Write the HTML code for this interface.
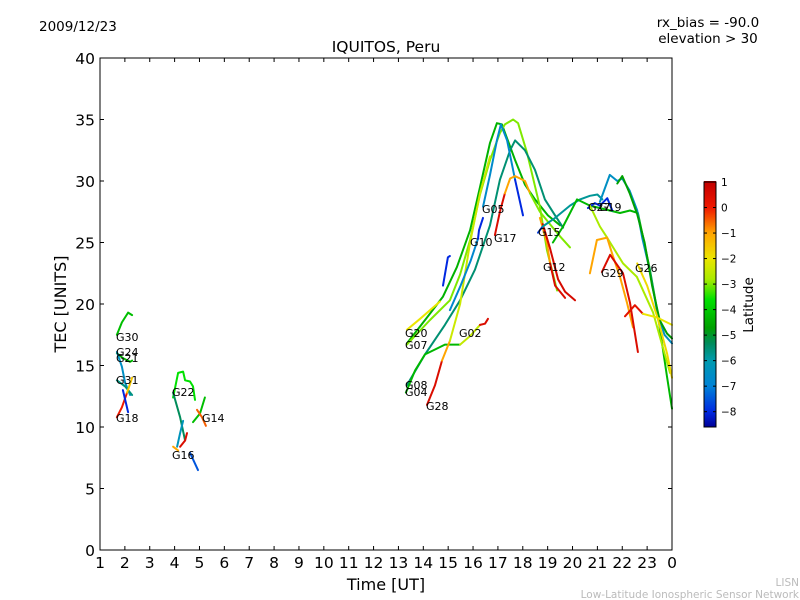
<!DOCTYPE html>
<html><head><meta charset="utf-8"><style>
body{margin:0;background:#fff}
svg{display:block;font-family:"DejaVu Sans","Liberation Sans",sans-serif}
</style></head><body>
<svg id="chart" width="800" height="600" viewBox="0 0 800 600">
<rect width="800" height="600" fill="#fff"/>
<text x="39" y="31" font-size="13.5">2009/12/23</text>
<text x="708" y="27" font-size="13.5" text-anchor="middle">rx_bias = -90.0</text>
<text x="708" y="43" font-size="13.5" text-anchor="middle">elevation &gt; 30</text>
<text x="386" y="52" font-size="15.5" text-anchor="middle">IQUITOS, Peru</text>
<g id="plot"></g>
<g id="labels" font-size="11"></g>
<g id="axes"></g>
<text x="386" y="590" font-size="16" text-anchor="middle">Time [UT]</text>
<text x="0" y="0" font-size="16" text-anchor="middle" transform="translate(66,304) rotate(-90)">TEC [UNITS]</text>
<g id="cbar"></g>
<text x="0" y="0" font-size="13.5" text-anchor="middle" transform="translate(753,305) rotate(-90)">Latitude</text>
<text x="799" y="586" font-size="10.5" fill="#bbb" text-anchor="end">LISN</text>
<text x="799" y="598" font-size="10.5" fill="#bbb" text-anchor="end">Low-Latitude Ionospheric Sensor Network</text>
</svg>
<script>
const xTickLabels=["1","2","3","4","5","6","7","8","9","10","11","12","13","14","15","16","17","18","19","20","21","22","23","0"];
const yTickValues=[0,5,10,15,20,25,30,35,40];
const cbarTicks=[1,0,-1,-2,-3,-4,-5,-6,-7,-8];
const trkT=[
[1.68,1.88,2.13,2.29],[1.68,1.92,2.21,2.29],[1.68,1.88,2.01,2.21],[1.68,2.01,2.29],
[1.68,1.88,2.09],[2.09,2.29],[1.92,2.13],
[3.94,4.14,4.34,4.42,4.62,4.74,4.82],[3.94,4.22,4.42],[4.10,4.22,4.34],
[4.74,5.02,5.22],[4.90,5.10,5.26],[4.22,4.42,4.50],[3.94,4.14],[4.62,4.94],
[13.34,14.15,14.79,15.35,15.88,16.28,16.68,16.96,17.16,17.69,18.09,18.49,19.01,19.50],
[13.34,14.27,15.07,15.48,15.88,16.28,16.68,17.08,17.28,17.61,17.81,18.17,18.69,18.97,19.38],
[13.34,14.07,14.87,15.48,16.08,16.68,17.08,17.49,17.69,18.09,18.49,18.89,19.30,19.62],
[16.40,16.68,16.96,17.12,17.37,17.69],[17.69,18.01],
[13.30,13.67,14.07,14.47,14.87,15.48],[15.48,15.88,16.28],[16.28,16.48,16.60],
[14.15,14.47,14.75],[14.75,15.07],[15.07,15.48,15.88,16.28,16.68],
[16.88,17.08,17.28],[17.28,17.49,17.69,17.89,18.09,18.29],[18.29,18.69,19.09,19.50,19.90],
[18.69,18.97,19.10],[19.10,19.30,19.70],[18.80,19.10,19.42,19.70,20.10],
[18.61,18.80],[18.80,19.30,19.90,20.30,20.70,21.00,21.20],
[19.21,19.62,20.18,20.70,21.91,22.31,22.63,23.11,23.40,23.80,24.00],
[20.62,20.90,21.10,21.40,21.60],
[21.10,21.50,21.80,22.00,22.30,22.60,22.80,23.10,23.40,23.70,24.00],
[21.80,22.00,22.30,22.60,22.90,23.20,23.50,23.80,24.00],
[20.70,21.10,21.39,22.03,22.59,23.24,23.92],
[20.70,20.98,21.39,21.59,21.91,22.19,22.43],
[21.18,21.51,22.03,22.31,22.63],
[22.11,22.51,22.83],[22.83,23.40,24.00],
[22.60,23.00,23.40,23.80,24.00],
[14.79,14.99,15.07],[15.07,15.50,15.90,16.20],[16.20,16.24,16.40],
[13.34,13.87,14.67]
];
const trkV=[
[17.5,18.5,19.3,19.1],[16.0,15.6,15.3,15.4],[16.1,14.9,13.6,12.6],[13.8,13.3,12.6],
[10.8,11.6,12.8],[12.8,14.0],[13.0,11.2],
[12.4,14.4,14.5,13.8,13.7,13.3,12.2],[12.8,10.8,8.9],[8.4,9.5,10.5],
[10.4,11.1,12.4],[11.4,10.8,10.1],[8.4,8.9,9.5],[8.4,8.1],[7.9,6.5],
[16.8,18.9,20.6,23.0,26.0,29.5,33.1,34.7,34.6,31.7,29.7,28.5,27.2,26.4],
[16.7,18.7,20.3,22.4,25.2,28.9,31.7,33.9,34.6,35.0,34.7,32.3,27.9,24.4,21.1],
[13.4,15.9,18.3,20.3,22.8,26.4,30.1,32.5,33.3,32.5,30.9,28.5,27.2,26.2],
[27.9,30.5,33.3,34.6,33.3,30.1],[30.1,27.2],
[12.8,14.6,15.9,16.3,16.7,16.7],[16.7,17.4,18.3],[18.3,18.4,18.8],
[11.8,13.4,15.4],[15.4,17.0],[17.0,20.0,25.0,29.0,32.0],
[25.6,27.5,29.0],[29.0,30.2,30.4,30.2,30.0,29.0],[29.0,27.5,26.5,25.5,24.6],
[27.0,25.0,23.3],[23.3,21.5,20.5],[26.5,24.5,22.0,21.0,20.3],
[25.8,26.3],[26.3,27.0,28.0,28.5,28.8,28.9,28.5],
[25.0,26.3,28.5,28.0,27.4,27.6,27.4,22.8,19.5,14.1,11.5],
[27.8,28.2,28.0,28.6,27.6],
[28.3,30.5,30.0,30.2,29.2,27.6,25.4,22.8,19.4,17.5,16.8],
[29.8,30.4,29.0,27.3,25.0,21.5,18.7,17.6,17.2],
[28.0,26.3,25.4,23.3,22.2,19.3,14.4],
[22.5,25.2,25.4,24.1,22.2,20.1,18.1],
[22.6,24.0,22.5,20.1,16.1],
[19.0,19.9,19.2],[19.2,18.9,18.3],
[23.3,21.5,19.0,16.0,14.0],
[21.5,23.8,23.9],[19.5,21.5,23.5,25.3],[25.3,26.0,27.0],
[17.9,18.8,20.2]
];
const trkLat=[-4.2,-4.2,-6.5,-5.6,0,-1.5,-8,-3.6,-5.3,-6.3,-4.2,-0.5,0.5,-1,-7.5,
-4.4,-3.0,-5.5,-6.7,-8,-4.3,-2.5,0.5,0.5,-1,-2.4,0.5,-1,-3.0,-1,0.5,0.6,-7.8,-5.8,-4.3,-8,-6.5,-4.7,-2.8,-1,0.5,0.3,-2,-1.8,-8,-6.8,-8,-2];
const labelNames=["G30","G24","G21","G31","G18","G22","G14","G16","G20","G07","G08","G04","G28","G02","G05","G10","G17","G15","G12","G27","G19","G29","G26"];
const labelPx=[[116,337],[116,352],[116,358],[116,380],[116,418],[172,392],[202,418],[172,455],[405,333],[405,345],[405,385],[405,392],[426,406],[459,333],[482,209],[470,242],[494,238],[538,232],[543,267],[588,207],[599,207],[601,273],[635,268]];

const X0=100,X1=672,Y0=550,Y1=58;
const xs=h=>X0+(h-1)*(X1-X0)/23;
const ys=v=>Y0-v*(Y0-Y1)/40;
const vmin=-8.6,vmax=1.0,CB0=427,CB1=182;
const cs=l=>CB0-(l-vmin)*(CB0-CB1)/(vmax-vmin);
const cmapStops=[[-8.6,0,0,150],[-8,0,40,225],[-7,0,130,215],[-6,0,155,175],[-5.3,0,140,90],[-4.7,0,160,0],[-3.6,0,225,0],[-2.8,170,235,0],[-2,235,230,0],[-1,255,165,0],[0,240,25,0],[1,195,0,0]];
function jet(l){
 if(l<=cmapStops[0][0])return `rgb(${cmapStops[0][1]},${cmapStops[0][2]},${cmapStops[0][3]})`;
 for(let i=1;i<cmapStops.length;i++){const a=cmapStops[i-1],b=cmapStops[i];
  if(l<=b[0]){const f=(l-a[0])/(b[0]-a[0]);
   return `rgb(${Math.round(a[1]+f*(b[1]-a[1]))},${Math.round(a[2]+f*(b[2]-a[2]))},${Math.round(a[3]+f*(b[3]-a[3]))})`;}}
 const z=cmapStops[cmapStops.length-1];return `rgb(${z[1]},${z[2]},${z[3]})`;}
const NS="http://www.w3.org/2000/svg";
function mk(tag,attrs,parent){const e=document.createElementNS(NS,tag);for(const k in attrs)e.setAttribute(k,attrs[k]);parent.appendChild(e);return e;}
const plot=document.getElementById('plot');
trkT.forEach((tt,i)=>{
 const d=tt.map((t,j)=>(j?'L':'M')+xs(t).toFixed(1)+','+ys(trkV[i][j]).toFixed(1)).join('');
 const p=mk('path',{d:d,fill:'none',stroke:jet(trkLat[i]),'stroke-width':2,'stroke-linejoin':'round','stroke-linecap':'round'},plot);
 
 
});
const lab=document.getElementById('labels');
labelNames.forEach((n,i)=>{
 const t=mk('text',{x:labelPx[i][0],y:labelPx[i][1]+4},lab);t.textContent=n;
 
 
});
const ax=document.getElementById('axes');
const fr=mk('rect',{x:X0,y:Y1,width:X1-X0,height:Y0-Y1,fill:'none',stroke:'#000','stroke-width':1},ax);


xTickLabels.forEach((s,i)=>{
 const x=xs(i+1);
 mk('line',{x1:x,x2:x,y1:Y0,y2:Y0-4,stroke:'#000'},ax);
 mk('line',{x1:x,x2:x,y1:Y1,y2:Y1+4,stroke:'#000'},ax);
 const t=mk('text',{x:x,y:568,'font-size':15.5,'text-anchor':'middle'},ax);t.textContent=s;
 
 
});
yTickValues.forEach(v=>{
 const y=ys(v);
 mk('line',{x1:X0,x2:X0+4,y1:y,y2:y,stroke:'#000'},ax);
 mk('line',{x1:X1,x2:X1-4,y1:y,y2:y,stroke:'#000'},ax);
 const t=mk('text',{x:95,y:y+6,'font-size':15.5,'text-anchor':'end'},ax);t.textContent=v;
 
 
});
const cb=document.getElementById('cbar');
for(let k=0;k<=CB0-CB1;k++){
 const l=vmin+(k+0.5)*(vmax-vmin)/(CB0-CB1);
 mk('rect',{x:704,y:CB0-k-1,width:12,height:1.2,fill:jet(l)},cb);
}
mk('rect',{x:704,y:CB1,width:12,height:CB0-CB1,fill:'none',stroke:'#000'},cb);
cbarTicks.forEach(v=>{
 const y=cs(v);
 mk('line',{x1:704,x2:707,y1:y,y2:y,stroke:'#000'},cb);
 mk('line',{x1:716,x2:713,y1:y,y2:y,stroke:'#000'},cb);
 const t=mk('text',{x:721,y:y+4,'font-size':10.5},cb);t.textContent=v<0?'\u2212'+(-v):v;
 
 
});
</script>
</body></html>
